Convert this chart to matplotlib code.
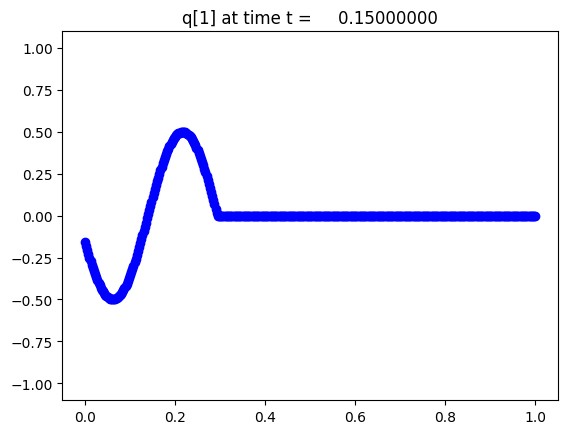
import matplotlib
matplotlib.use("Agg")
import matplotlib.pyplot as plt
import numpy as np

# cell centres (spacing about 0.0025)
x_wave = np.arange(121) * 0.0025
q_wave = [-0.157, -0.181, -0.205, -0.227, -0.250, -0.271, -0.292, -0.312,
          -0.332, -0.350, -0.368, -0.385, -0.400, -0.415, -0.429, -0.441,
          -0.452, -0.463, -0.472, -0.479, -0.486, -0.491, -0.495, -0.498,
          -0.500, -0.500, -0.499, -0.497, -0.493, -0.488, -0.482, -0.475,
          -0.466, -0.456, -0.445, -0.433, -0.420, -0.406, -0.390, -0.374,
          -0.357, -0.339, -0.319, -0.300, -0.279, -0.258, -0.236, -0.213,
          -0.190, -0.166, -0.142, -0.118, -0.093, -0.068, -0.043, -0.017,
          0.008, 0.033, 0.059, 0.084, 0.109, 0.133, 0.157, 0.181,
          0.204, 0.227, 0.249, 0.270, 0.291, 0.311, 0.330, 0.349,
          0.366, 0.383, 0.398, 0.413, 0.426, 0.439, 0.450, 0.461,
          0.471, 0.479, 0.486, 0.491, 0.495, 0.498, 0.500, 0.500,
          0.499, 0.496, 0.493, 0.488, 0.482, 0.474, 0.466, 0.456,
          0.446, 0.433, 0.420, 0.406, 0.390, 0.374, 0.357, 0.339,
          0.320, 0.300, 0.280, 0.258, 0.236, 0.214, 0.191, 0.167,
          0.142, 0.117, 0.092, 0.067, 0.042, 0.017, 0.0, 0.0, 0.0]
x_flat = 0.3025 + np.arange(280) * 0.0025
q_flat = [0.0] * 280

x = np.concatenate([x_wave, x_flat])
q = np.concatenate([q_wave, q_flat])
t = 0.15

fig = plt.figure(figsize=(5.68, 4.35), dpi=100)
ax = fig.add_subplot(111)
fig.subplots_adjust(left=0.110, right=0.982, top=0.926, bottom=0.078)

ax.plot(x, q, 'bo')
ax.set_ylim(-1.1, 1.1)
ax.set_title('q[1] at time t = %14.8f' % t)

fig.savefig('out.png')
